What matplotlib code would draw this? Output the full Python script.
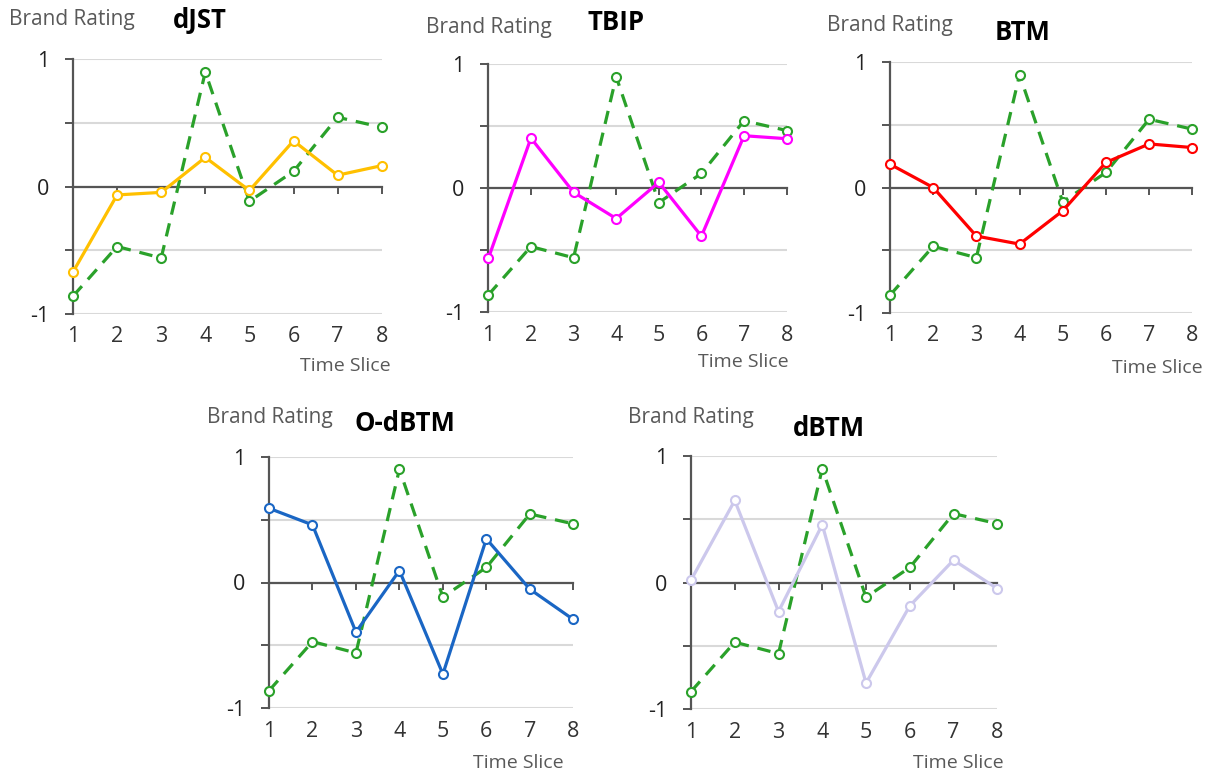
import matplotlib
matplotlib.use('Agg')
import matplotlib.pyplot as plt

plt.rcParams['font.family'] = ['Open Sans', 'DejaVu Sans']

# data
time_slices = [1, 2, 3, 4, 5, 6, 7, 8]
reference = [-0.86, -0.47, -0.56, 0.90, -0.115, 0.12, 0.545, 0.466]

djst = [-0.67, -0.065, -0.045, 0.23, -0.03, 0.36, 0.09, 0.165]
tbip = [-0.566, 0.405, -0.032, -0.244, 0.048, -0.386, 0.424, 0.40]
btm = [0.186, 0.0, -0.388, -0.452, -0.186, 0.20, 0.348, 0.319]
o_dbtm = [0.59, 0.458, -0.394, 0.095, -0.728, 0.347, -0.053, -0.294]
dbtm = [0.02, 0.649, -0.228, 0.458, -0.793, -0.183, 0.178, -0.047]

model_names = ['dJST', 'TBIP', 'BTM', 'O-dBTM', 'dBTM']
model_series = [djst, tbip, btm, o_dbtm, dbtm]
model_colors = ['#FFC000', '#FF00FF', '#FF0000', '#1A66C4', '#CCC8EC']

y_ticks = [-1, -0.5, 0, 0.5, 1]
y_ticklabels = ['-1', '', '0', '', '1']

W, H = 1212, 776

# layout in pixels: axes (left, top, right, bottom), "Brand Rating" (x, y),
# title (x, y), "Time Slice" (x, y)
layout = [
    dict(ax=(73, 59.3, 381.7, 314), br=(9, 20), title=(173, 21), ts=(300, 366)),
    dict(ax=(488.3, 64.3, 786.7, 312.3), br=(426, 27), title=(587, 23), ts=(698, 362)),
    dict(ax=(890, 62.3, 1192.3, 312.7), br=(827, 25), title=(995, 32), ts=(1112, 368)),
    dict(ax=(269, 456.7, 573.3, 708.3), br=(207, 418), title=(354, 424), ts=(473, 763)),
    dict(ax=(691, 456, 997.3, 709.3), br=(628, 418), title=(793, 429), ts=(913, 763)),
]

fig = plt.figure(figsize=(W / 100, H / 100), dpi=100)

for name, series, color, lay in zip(model_names, model_series, model_colors, layout):
    l, t, r, b = lay['ax']
    ax = fig.add_axes([l / W, 1 - b / H, (r - l) / W, (b - t) / H])
    ax.set_xlim(1, 8)
    ax.set_ylim(-1, 1)

    # grid
    ax.set_yticks(y_ticks)
    ax.set_yticklabels(y_ticklabels)
    ax.yaxis.grid(True, color='#D9D9D9', linewidth=1.5)
    ax.set_axisbelow(True)

    # spines: left axis, horizontal axis through zero
    for s in ['top', 'right']:
        ax.spines[s].set_visible(False)
    ax.spines['left'].set_color('#555555')
    ax.spines['left'].set_linewidth(1.6)
    ax.spines['bottom'].set_position(('data', 0))
    ax.spines['bottom'].set_color('#555555')
    ax.spines['bottom'].set_linewidth(1.6)
    ax.tick_params(axis='y', direction='out', length=6, width=1.4,
                   color='#555555', labelsize=15.5, pad=11, labelcolor='#222222')
    ax.set_xticks(time_slices)
    ax.tick_params(axis='x', direction='out', length=5, width=1.4,
                   color='#555555', labelbottom=False)

    # tick labels at the bottom of the plot
    sec = ax.secondary_xaxis('bottom')
    sec.set_xticks(time_slices)
    sec.set_xticklabels([str(v) for v in time_slices])
    sec.tick_params(length=0, pad=9, labelsize=15.5, labelcolor='#333333')
    sec.spines['bottom'].set_visible(False)

    ax.plot(time_slices, reference, color='#2AA12A', linewidth=2.3,
            dashes=(4.2, 2.8), marker='o', markersize=6.5,
            markerfacecolor='white', markeredgewidth=1.5, zorder=3,
            clip_on=False)
    ax.plot(time_slices, series, color=color, linewidth=2.3,
            marker='o', markersize=6.5, markerfacecolor='white',
            markeredgewidth=1.5, zorder=4, clip_on=False)

    bx, by = lay['br']
    fig.text(bx / W, 1 - by / H, 'Brand Rating', fontsize=15,
             color='#595959', ha='left', va='center')
    tx, ty = lay['title']
    fig.text(tx / W, 1 - ty / H, name, fontsize=18.5, fontweight='bold',
             color='black', ha='left', va='center')
    sx, sy = lay['ts']
    fig.text(sx / W, 1 - sy / H, 'Time Slice', fontsize=14,
             color='#595959', ha='left', va='center')

fig.savefig('out.png', dpi=100)
